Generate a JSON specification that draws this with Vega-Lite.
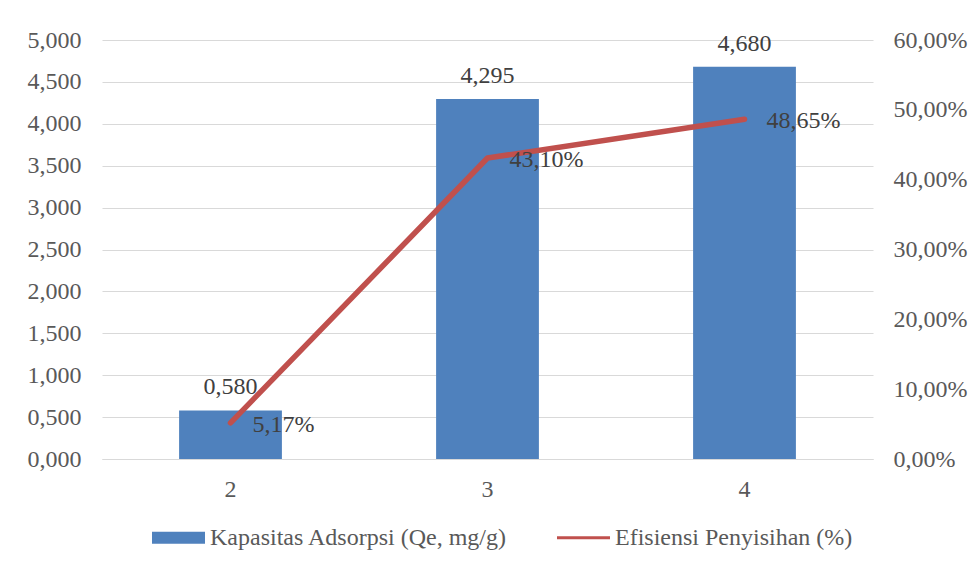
{
  "$schema": "https://vega.github.io/schema/vega-lite/v6.json",
  "width": 771,
  "height": 419,
  "autosize": {"type": "none"},
  "padding": {"left": 102, "top": 40, "right": 101, "bottom": 109},
  "background": "white",
  "config": {
    "locale": {"number": {"decimal": ",", "thousands": ".", "grouping": [3], "currency": ["", ""]}},
    "font": "Liberation Serif",
    "view": {"stroke": null},
    "axis": {"labelFont": "Liberation Serif", "labelFontSize": 24, "labelColor": "#595959", "ticks": false, "domain": false, "gridColor": "#d9d9d9", "gridWidth": 1, "titleFontSize": 0}
  },
  "data": {"values": [
    {"ratio": "2", "qe": 0.58, "eff": 0.0517, "s1": "Kapasitas Adsorpsi (Qe, mg/g)", "s2": "Efisiensi Penyisihan (%)"},
    {"ratio": "3", "qe": 4.295, "eff": 0.431, "s1": "Kapasitas Adsorpsi (Qe, mg/g)", "s2": "Efisiensi Penyisihan (%)"},
    {"ratio": "4", "qe": 4.68, "eff": 0.4865, "s1": "Kapasitas Adsorpsi (Qe, mg/g)", "s2": "Efisiensi Penyisihan (%)"}
  ]},
  "encoding": {
    "x": {"field": "ratio", "type": "nominal", "title": null,
      "scale": {"paddingInner": 0.6, "paddingOuter": 0.3},
      "axis": {"labelAngle": 0, "labelPadding": 18, "grid": false, "domain": true, "domainColor": "#d9d9d9"}}
  },
  "layer": [
    {
      "layer": [
        {
          "mark": {"type": "bar", "color": "#4f81bd"},
          "encoding": {
            "y": {"field": "qe", "type": "quantitative", "title": null,
              "scale": {"domain": [0, 5]},
              "axis": {"orient": "left", "values": [0, 0.5, 1, 1.5, 2, 2.5, 3, 3.5, 4, 4.5, 5], "format": ".3f", "labelPadding": 21, "grid": true}},
            "color": {"field": "s1", "type": "nominal",
              "scale": {"domain": ["Kapasitas Adsorpsi (Qe, mg/g)", "Efisiensi Penyisihan (%)"], "range": ["#4f81bd", "#c0504d"]},
              "legend": {"orient": "none", "legendX": 50, "legendY": 471, "direction": "horizontal", "title": null,
                "labelFont": "Liberation Serif", "labelFontSize": 24, "labelColor": "#595959", "labelOffset": 5, "labelLimit": 0,
                "columnPadding": 49, "symbolSize": 2809, "symbolStrokeWidth": 0,
                "symbolType": "M-1,-0.226H1V0.226H-1Z",
                "encode": {"symbols": {"update": {"shape": {"signal": "datum.value == 'Efisiensi Penyisihan (%)' ? 'M-1,-0.06H1V0.06H-1Z' : 'M-1,-0.226H1V0.226H-1Z'"}}}}}}
          }
        },
        {
          "mark": {"type": "text", "align": "center", "baseline": "alphabetic", "dy": -16, "fontSize": 24, "color": "#404040"},
          "encoding": {
            "y": {"field": "qe", "type": "quantitative"},
            "text": {"field": "qe", "type": "quantitative", "format": ".3f"}
          }
        }
      ]
    },
    {
      "layer": [
        {
          "mark": {"type": "line", "color": "#c0504d", "strokeWidth": 5.5, "strokeCap": "round", "strokeJoin": "round"},
          "encoding": {
            "y": {"field": "eff", "type": "quantitative", "title": null,
              "scale": {"domain": [0, 0.6]},
              "axis": {"orient": "right", "values": [0, 0.1, 0.2, 0.3, 0.4, 0.5, 0.6], "format": ".2%", "labelPadding": 20, "grid": false}},
            "color": {"field": "s2", "type": "nominal"}
          }
        },
        {
          "mark": {"type": "text", "align": "left", "baseline": "middle", "dx": 22, "dy": 2, "fontSize": 24, "color": "#404040"},
          "encoding": {
            "y": {"field": "eff", "type": "quantitative"},
            "text": {"field": "eff", "type": "quantitative", "format": ".2%"}
          }
        }
      ]
    }
  ],
  "resolve": {"scale": {"y": "independent"}}
}
